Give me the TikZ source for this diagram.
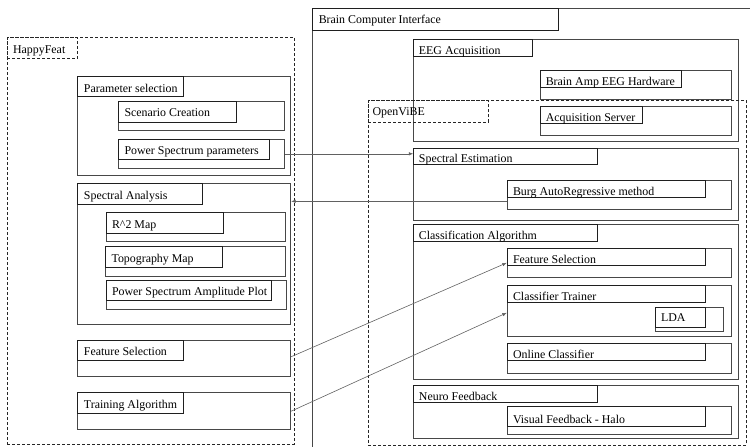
\documentclass[tikz,border=0pt]{standalone}
\usepackage{fontspec}
\setmainfont{Liberation Serif}
\usetikzlibrary{fit,arrows.meta,calc}
\tikzset{
  box/.style={draw=black!72, line width=0.9pt, inner sep=0pt},
  dbox/.style={draw=black!85, line width=0.8pt, dash pattern=on 3pt off 2pt, inner sep=0pt},
  tab/.style={draw=black!88, line width=0.9pt, inner sep=0pt},
  dtab/.style={draw=black!85, line width=0.8pt, dash pattern=on 3pt off 2pt, inner sep=0pt},
  lbl/.style={font=\fontsize{11.9pt}{13pt}\selectfont, inner sep=0pt, anchor=base west, text=black},
  arr/.style={draw=black!62, line width=0.6pt, -{Latex[length=4.5pt,width=3.5pt]}}
}
% #1 style, #2 name, #3..#6 corners
\newcommand\mkbox[6][box]{\node[#1, fit={(#3,#4)(#5,#6)}] (#2) {};}
% #1 style, #2 name, #3..#6 corners, #7 xoff, #8 baseline offset, #9 text
\newcommand\mktab[9][tab]{\node[#1, fit={(#3,#4)(#5,#6)}] (#2) {};
  \node[lbl] (#2-t) at ([xshift=#7pt, yshift=#8pt]#2.south west) {#9};}
\begin{document}
\begin{tikzpicture}[x=1pt,y=-1pt]
\useasboundingbox (0,0) rectangle (750,447);
\clip (0,0) rectangle (750,447);

% ---------------- Brain Computer Interface ----------------
\mkbox{bci}{312.3}{8.5}{770}{470}
\mktab{bcit}{312.3}{8.5}{558.3}{30.3}{6.7}{7.4}{Brain Computer Interface}

\mkbox{eeg}{413.7}{39.3}{738.7}{141.7}
\mktab{eegt}{413.7}{39.3}{532.3}{56.7}{5.5}{2.6}{EEG Acquisition}
\mkbox{amp}{540}{70.3}{731}{99.3}
\mktab{ampt}{540}{70.3}{681}{87.3}{6}{2.2}{Brain Amp EEG Hardware}
\mkbox{acq}{540}{106}{731}{135.3}
\mktab{acqt}{540}{106}{642.3}{123.3}{6}{2.2}{Acquisition Server}

\mkbox{spe}{413.7}{148.3}{738.7}{220}
\mktab{spet}{413.7}{148.3}{597.7}{164.7}{5.5}{2.4}{Spectral Estimation}
\mkbox{burg}{507.3}{180.7}{731}{209.3}
\mktab{burgt}{507.3}{180.7}{705.3}{197.3}{6}{2.4}{Burg AutoRegressive method}

\mkbox{cla}{413.7}{224.7}{738.7}{379}
\mktab{clat}{413.7}{224.7}{597.7}{241.3}{5.5}{2.4}{Classification Algorithm}
\mkbox{fsr}{507.3}{248.3}{731}{277.3}
\mktab{fsrt}{507.3}{248.3}{705.3}{265}{6}{2.4}{Feature Selection}
\mkbox{ct}{507.3}{285.3}{731}{336.3}
\mktab{ctt}{507.3}{285.3}{705.3}{302}{6}{2.4}{Classifier Trainer}
\mkbox{lda}{655.3}{307.3}{723.3}{331}
\mktab{ldat}{655.3}{307.3}{705.3}{327.7}{6}{6.3}{LDA}
\mkbox{onl}{507.3}{343.3}{731}{373.3}
\mktab{onlt}{507.3}{343.3}{705.3}{360}{6}{2.4}{Online Classifier}

\mkbox{neu}{413.7}{385.7}{738.7}{438.7}
\mktab{neut}{413.7}{385.7}{597.7}{402.3}{5.5}{2.4}{Neuro Feedback}
\mkbox{vis}{507.3}{406.3}{731}{434.7}
\mktab{vist}{507.3}{406.3}{705.3}{426}{6}{2.6}{Visual Feedback - Halo}

% ---------------- OpenViBE ----------------
\mkbox[dbox]{ovb}{368.3}{100.7}{746.7}{445}
\mktab[dtab]{ovbt}{368.3}{100.7}{488.3}{122.3}{4.5}{7}{OpenViBE}

% ---------------- HappyFeat ----------------
\mkbox[dbox]{hf}{7.3}{37.7}{294.3}{444}
\mktab[dtab]{hft}{7.3}{37.7}{77.7}{58.3}{6}{5}{HappyFeat}

\mkbox{par}{77.7}{76.3}{290.7}{175.3}
\mktab{part}{77.7}{76.3}{183.3}{96.7}{6.5}{5}{Parameter selection}
\mkbox{scn}{118.3}{101}{284.3}{130.3}
\mktab{scnt}{118.3}{101}{236}{122}{6.5}{6}{Scenario Creation}
\mkbox{psp}{118.3}{139.3}{284.3}{168.3}
\mktab{pspt}{118.3}{139.3}{269.3}{159.7}{6.5}{5.3}{Power Spectrum parameters}

\mkbox{spa}{77.7}{183.7}{290.7}{324}
\mktab{spat}{77.7}{183.7}{202.3}{204}{6.5}{5.3}{Spectral Analysis}
\mkbox{r2}{106.3}{212.3}{285.3}{241.3}
\mktab{r2t}{106.3}{212.3}{223.3}{233.3}{6}{5}{R\^{}2 Map}
\mkbox{topo}{105.3}{246.7}{285.3}{276}
\mktab{topot}{105.3}{246.7}{222.7}{267.3}{6.5}{5.3}{Topography Map}
\mkbox{psa}{106.3}{280}{286.3}{309.3}
\mktab{psat}{106.3}{280}{271.7}{300.7}{6}{5.3}{Power Spectrum Amplitude Plot}

\mkbox{fsl}{77.7}{340}{290.7}{376.7}
\mktab{fslt}{77.7}{340}{183.3}{360.3}{6.5}{5.3}{Feature Selection}
\mkbox{ta}{77.7}{392.7}{290.7}{429.7}
\mktab{tat}{77.7}{392.7}{183.3}{413.3}{6.5}{5.3}{Training Algorithm}

% ---------------- connectors ----------------
\draw[arr] (psp.east) -- (psp.east -| spe.west);
\draw[arr] ([yshift=-6.3pt]burg.west) -- ([yshift=-6.3pt]burg.west -| spa.east);
\draw[arr] ([yshift=1.6pt]fsl.east) -- (fsr.west);
\draw[arr] (ta.east) -- ([yshift=-2pt]ct.west);
\end{tikzpicture}
\end{document}
